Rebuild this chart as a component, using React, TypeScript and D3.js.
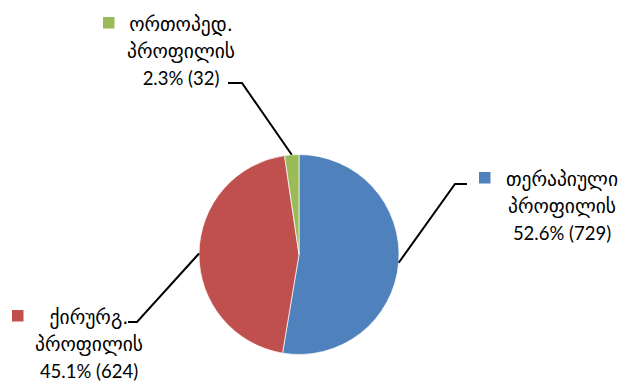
import React from "react";
import * as d3 from "d3";

const categories = ["თერაპიული", "ქირურგ.", "ორთოპედ."];
const secondLine = ["პროფილის", "პროფილის", "პროფილის"];
const values = [729, 624, 32];
const colors = ["#4F81BD", "#C0504D", "#9BBB59"];

const W = 624;
const H = 385;
const cx = 299;
const cy = 254.5;
const R = 100;

// label layout: center x of text block, y of first line center, key x, elbow point, end point
const labelLayout = [
  { tx: 562, ty: 179, kx: 479, end: [467, 184], elbow: [455, 184] },
  { tx: 89, ty: 317, kx: 12, end: [128, 322], elbow: [137, 322] },
  { tx: 181, ty: 24, kx: 103, end: [228, 83], elbow: [242, 83] },
];

export default function App() {
  const total = d3.sum(values);
  const pie = d3.pie<number>().sort(null).value((d) => d)(values);
  const arc = d3.arc<d3.PieArcDatum<number>>().innerRadius(0).outerRadius(R);
  const lh = 27;
  const geoFont = "'DejaVu Sans', sans-serif";
  const numFont = "Lato, 'DejaVu Sans', sans-serif";
  return (
    <svg width={W} height={H} style={{ position: "absolute", left: 0, top: 0, background: "#fff" }}>
      <rect x={0} y={0} width={W} height={H} fill="#fff" />
      <g transform={`translate(${cx},${cy})`}>
        {pie.map((p, i) => (
          <path key={i} d={arc(p) || ""} fill={colors[i]} stroke="#fff" strokeWidth={0.7} />
        ))}
      </g>
      {pie.map((p, i) => {
        const a = (p.startAngle + p.endAngle) / 2;
        const sx = cx + R * Math.sin(a);
        const sy = cy - R * Math.cos(a);
        const L = labelLayout[i];
        return (
          <polyline
            key={"l" + i}
            points={`${sx},${sy} ${L.elbow[0]},${L.elbow[1]} ${L.end[0]},${L.end[1]}`}
            fill="none"
            stroke="#000"
            strokeWidth={2}
          />
        );
      })}
      {values.map((v, i) => {
        const L = labelLayout[i];
        const pct = ((v / total) * 100).toFixed(1) + "% (" + v + ")";
        return (
          <g key={"t" + i}>
            <rect x={L.kx} y={L.ty - 7} width={11.5} height={11.5} fill={colors[i]} />
            <text x={L.tx} y={L.ty} textAnchor="middle" dominantBaseline="central" fontFamily={geoFont} fontSize={19.5} fill="#000">
              {categories[i]}
            </text>
            <text x={L.tx} y={L.ty + lh} textAnchor="middle" dominantBaseline="central" fontFamily={geoFont} fontSize={19.5} fill="#000">
              {secondLine[i]}
            </text>
            <text x={L.tx} y={L.ty + 2 * lh} textAnchor="middle" dominantBaseline="central" fontFamily={numFont} fontSize={18.5} fill="#000">
              {pct}
            </text>
          </g>
        );
      })}
    </svg>
  );
}
